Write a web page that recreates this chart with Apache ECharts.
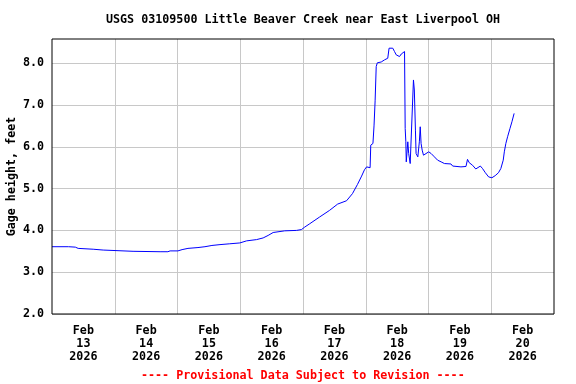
<!DOCTYPE html>
<html>
<head>
<meta charset="utf-8">
<script src="https://cdn.jsdelivr.net/npm/echarts@6/dist/echarts.min.js"></script>
<style>html,body{margin:0;padding:0;background:#fff}#c{width:576px;height:384px}</style>
</head>
<body>
<div id="c"></div>
<script>
var titleText = "USGS 03109500 Little Beaver Creek near East Liverpool OH";
var yAxisName = "Gage height, feet";
var footerText = "---- Provisional Data Subject to Revision ----";
var dayLabels = ["Feb\n13\n2026","Feb\n14\n2026","Feb\n15\n2026","Feb\n16\n2026","Feb\n17\n2026","Feb\n18\n2026","Feb\n19\n2026","Feb\n20\n2026"];
var xStart = "2026-02-13 00:00";
var xEnd = "2026-02-21 00:00";
var yMin = 2.0, yMax = 8.58;

var times = [
"2026-02-13 00:00","2026-02-13 06:20","2026-02-13 07:00","2026-02-13 08:55","2026-02-13 10:00",
"2026-02-13 15:45","2026-02-13 19:35","2026-02-14 07:00","2026-02-14 17:20","2026-02-14 20:20",
"2026-02-14 21:10","2026-02-15 00:10","2026-02-15 01:45","2026-02-15 04:00","2026-02-15 07:50",
"2026-02-15 10:30","2026-02-15 13:10","2026-02-15 16:15","2026-02-15 20:00","2026-02-15 23:50",
"2026-02-16 02:25","2026-02-16 06:15","2026-02-16 08:45","2026-02-16 10:40","2026-02-16 12:35",
"2026-02-16 17:00","2026-02-16 21:30","2026-02-16 23:25","2026-02-17 00:40","2026-02-17 02:35",
"2026-02-17 06:20","2026-02-17 10:10","2026-02-17 13:15","2026-02-17 16:40","2026-02-17 18:55",
"2026-02-17 20:50","2026-02-17 22:25","2026-02-17 23:30","2026-02-18 00:20","2026-02-18 01:05",
"2026-02-18 01:40","2026-02-18 01:55","2026-02-18 02:45","2026-02-18 03:10","2026-02-18 03:35",
"2026-02-18 04:00","2026-02-18 04:25","2026-02-18 05:55","2026-02-18 07:10","2026-02-18 08:25",
"2026-02-18 08:55","2026-02-18 10:20","2026-02-18 11:00","2026-02-18 11:40","2026-02-18 12:15",
"2026-02-18 12:55","2026-02-18 13:35","2026-02-18 14:10","2026-02-18 14:50","2026-02-18 15:05",
"2026-02-18 15:20","2026-02-18 15:30","2026-02-18 16:05","2026-02-18 16:25","2026-02-18 17:00",
"2026-02-18 17:45","2026-02-18 18:15","2026-02-18 18:35","2026-02-18 19:00","2026-02-18 19:15",
"2026-02-18 19:55","2026-02-18 20:30","2026-02-18 20:50","2026-02-18 21:10","2026-02-18 21:35",
"2026-02-18 22:05","2026-02-18 22:50","2026-02-19 00:05","2026-02-19 01:00","2026-02-19 02:15",
"2026-02-19 03:30","2026-02-19 04:50","2026-02-19 06:05","2026-02-19 08:35","2026-02-19 09:15",
"2026-02-19 12:25","2026-02-19 14:20","2026-02-19 14:55","2026-02-19 15:35","2026-02-19 16:50",
"2026-02-19 18:05","2026-02-19 18:45","2026-02-19 19:50","2026-02-19 20:40","2026-02-19 21:45",
"2026-02-19 23:00","2026-02-20 00:15","2026-02-20 01:30","2026-02-20 02:45","2026-02-20 03:40",
"2026-02-20 04:35","2026-02-20 05:00","2026-02-20 05:35","2026-02-20 06:15","2026-02-20 07:10",
"2026-02-20 07:55","2026-02-20 08:45"
];
var gageHeight = [
3.61,3.61,3.59,3.60,3.57,
3.55,3.53,3.50,3.49,3.49,
3.51,3.51,3.54,3.57,3.59,
3.61,3.64,3.66,3.68,3.70,
3.75,3.78,3.82,3.88,3.95,
3.99,4.00,4.02,4.08,4.16,
4.32,4.48,4.63,4.71,4.88,
5.10,5.30,5.45,5.52,5.48,
5.50,6.04,6.08,6.50,7.10,
7.92,8.01,8.03,8.08,8.12,
8.36,8.36,8.28,8.20,8.22,
8.16,8.22,8.20,8.28,6.44,
6.12,5.64,6.12,5.84,5.60,
5.60,7.60,7.36,6.40,5.84,
5.76,6.12,6.48,6.08,5.92,
5.80,5.84,5.88,5.84,5.76,
5.68,5.64,5.60,5.59,5.54,
5.52,5.53,5.70,5.62,5.56,
5.47,5.47,5.54,5.48,5.38,
5.28,5.26,5.31,5.38,5.48,
5.68,5.88,6.08,6.24,6.44,
6.60,6.80
];

function toMs(s){ return Date.parse(s.replace(" ","T") + ":00Z"); }
var DAY = 86400000;
var seriesData = times.map(function(t,i){ return [toMs(t), gageHeight[i]]; });

var FONT = "'DejaVu Sans Mono', 'Liberation Mono', monospace";
var chart = echarts.init(document.getElementById('c'), null, {renderer:'canvas'});
chart.setOption({
  animation:false,
  backgroundColor:'#ffffff',
  grid:{left:52, right:22, top:39, bottom:70, containLabel:false, outerBoundsMode:'none',
        show:true, borderColor:'#000', borderWidth:1, backgroundColor:'transparent', z:5},
  xAxis:[
    {type:'value', position:'top', min:toMs(xStart), max:toMs(xEnd), interval:DAY,
     axisLine:{show:false}, axisTick:{show:false}, axisLabel:{show:false},
     splitLine:{show:true, showMinLine:false, showMaxLine:false, lineStyle:{color:'#c8c8c8', width:1}}},
    {type:'category', position:'bottom', data:dayLabels, boundaryGap:true,
     axisLine:{show:false}, axisTick:{show:false}, splitLine:{show:false},
     axisLabel:{interval:0, margin:10, lineHeight:13, color:'#000', fontFamily:FONT, fontWeight:'bold', fontSize:11.7, align:'center'}}
  ],
  yAxis:{type:'value', min:yMin, max:yMax, interval:1,
    name:yAxisName, nameLocation:'middle', nameGap:34, nameRotate:90, nameMoveOverlap:false,
    nameTextStyle:{color:'#000', fontFamily:FONT, fontWeight:'bold', fontSize:11.7},
    axisLine:{show:false}, axisTick:{show:false},
    axisLabel:{margin:8, color:'#000', fontFamily:FONT, fontWeight:'bold', fontSize:11.7,
      formatter:function(v){ return Math.abs(v-Math.round(v))<1e-6 ? v.toFixed(1) : ''; }},
    splitLine:{show:true, showMaxLine:false, lineStyle:{color:'#c8c8c8', width:1}}},
  series:[{type:'line', xAxisIndex:0, data:seriesData, showSymbol:false, symbol:'none',
    lineStyle:{color:'#0000ff', width:1}, silent:true}],
  graphic:[
    {type:'text', left:106, top:14, style:{text:titleText, fill:'#000', font:"bold 11.7px "+FONT}},
    {type:'text', left:141, top:370, style:{text:footerText, fill:'#ff0000', font:"bold 11.7px "+FONT}}
  ]
});
</script>
</body>
</html>
